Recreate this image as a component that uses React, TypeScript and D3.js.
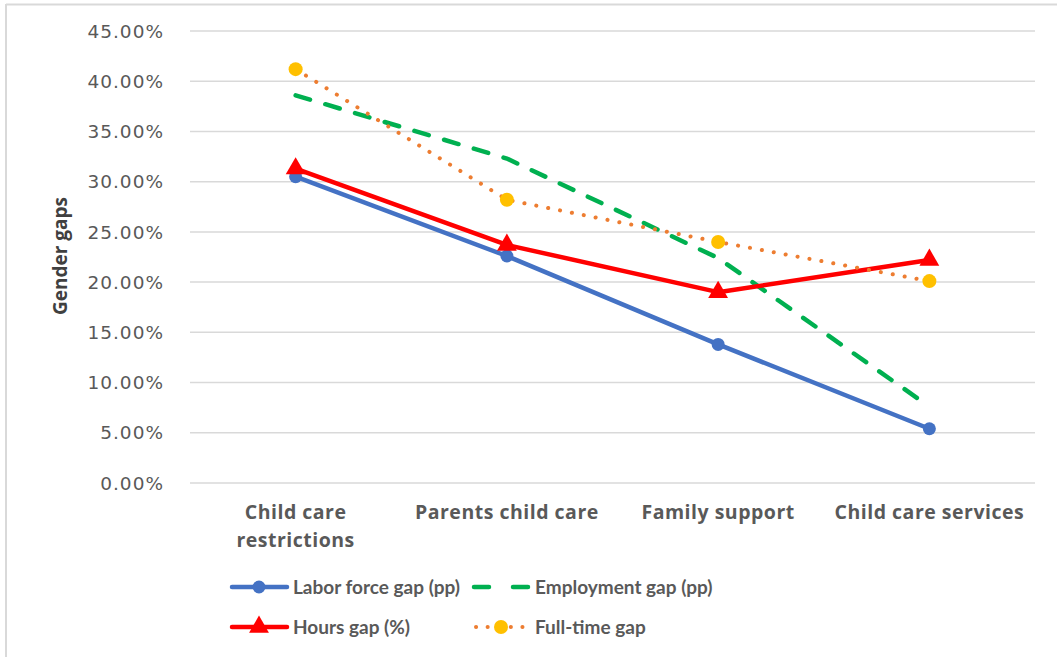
import React from "react";
import * as d3 from "d3";

// Categories along the x axis (multi-line labels split on "\n")
const categories = [
  "Child care\nrestrictions",
  "Parents child care",
  "Family support",
  "Child care services",
];

// Series values (fractions)
const laborForceGap = [0.305, 0.226, 0.138, 0.054];
const employmentGap = [0.386, 0.323, 0.224, 0.076];
const hoursGap = [0.313, 0.237, 0.19, 0.222];
const fullTimeGap = [0.412, 0.282, 0.24, 0.201];

const yTicks = [0, 0.05, 0.1, 0.15, 0.2, 0.25, 0.3, 0.35, 0.4, 0.45];

const W = 1057;
const H = 657;

const x = d3
  .scaleBand<number>()
  .domain(categories.map((_, i) => i))
  .range([190, 1035]);
const cx = (i: number) => (x(i) as number) + x.bandwidth() / 2;
const y = d3.scaleLinear().domain([0, 0.45]).range([483, 31]);

const line = d3
  .line<number>()
  .x((_, i) => cx(i))
  .y((d) => y(d));

const fmt = d3.format(".2%");
const triangle = d3.symbol().type(d3.symbolTriangle).size(170);

const BLUE = "#4472C4";
const GREEN = "#00B050";
const RED = "#FF0000";
const ORANGE = "#ED7D31";
const GOLD = "#FFC000";

const legendFont = "Lato, 'Open Sans', sans-serif";
const labelFont = "'Open Sans', Lato, sans-serif";
const tickFont = "'DejaVu Sans', 'Open Sans', sans-serif";

export default function App() {
  return (
    <svg
      width={W}
      height={H}
      style={{ position: "absolute", left: 0, top: 0, background: "#fff" }}
    >
      <rect width={W} height={H} fill="#fff" />
      {/* chart frame */}
      <line x1={6} x2={6} y1={4} y2={H} stroke="#d9d9d9" strokeWidth={2} />
      <line x1={6} x2={W} y1={4.5} y2={4.5} stroke="#d9d9d9" strokeWidth={2} />

      {/* gridlines and y tick labels */}
      {yTicks.map((t) => (
        <g key={t}>
          <line
            x1={190}
            x2={1035}
            y1={y(t)}
            y2={y(t)}
            stroke="#d9d9d9"
            strokeWidth={1.5}
          />
          <text
            x={164}
            y={y(t)}
            dy="0.36em"
            textAnchor="end"
            fontFamily={tickFont}
            fontSize={18.5}
            letterSpacing={1}
            fill="#595959"
          >
            {fmt(t)}
          </text>
        </g>
      ))}

      {/* axis title */}
      <text
        transform="translate(67,256) rotate(-90)"
        textAnchor="middle"
        fontFamily={labelFont}
        fontSize={19}
        fontWeight="bold"
        fill="#404040"
      >
        Gender gaps
      </text>

      {/* category labels */}
      {categories.map((c, i) =>
        c.split("\n").map((ln, j) => (
          <text
            key={`${i}-${j}`}
            x={cx(i)}
            y={519 + j * 28}
            textAnchor="middle"
            fontFamily={labelFont}
            fontSize={19.5}
            letterSpacing={0.5}
            fontWeight="bold"
            fill="#595959"
          >
            {ln}
          </text>
        ))
      )}

      {/* Labor force gap */}
      <path d={line(laborForceGap) ?? ""} fill="none" stroke={BLUE} strokeWidth={4.5} strokeLinejoin="round" />
      {laborForceGap.map((v, i) => (
        <circle key={i} cx={cx(i)} cy={y(v)} r={6.5} fill={BLUE} />
      ))}

      {/* Employment gap */}
      <path
        d={line(employmentGap) ?? ""}
        fill="none"
        stroke={GREEN}
        strokeWidth={4.5}
        strokeDasharray="15 16"
        strokeLinecap="round"
      />

      {/* Hours gap */}
      <path d={line(hoursGap) ?? ""} fill="none" stroke={RED} strokeWidth={4.5} strokeLinejoin="round" />
      {hoursGap.map((v, i) => (
        <path key={i} d={triangle() ?? ""} transform={`translate(${cx(i)},${y(v)})`} fill={RED} />
      ))}

      {/* Full-time gap */}
      <path
        d={line(fullTimeGap) ?? ""}
        fill="none"
        stroke={ORANGE}
        strokeWidth={4}
        strokeDasharray="0.1 12"
        strokeLinecap="round"
      />
      {fullTimeGap.map((v, i) => (
        <circle key={i} cx={cx(i)} cy={y(v)} r={7} fill={GOLD} />
      ))}

      {/* legend */}
      <g fontFamily={legendFont} fontSize={19} fontWeight="bold" fill="#595959">
        {/* Labor force gap */}
        <line x1={232} x2={287} y1={587} y2={587} stroke={BLUE} strokeWidth={4.5} strokeLinecap="round" />
        <circle cx={259} cy={587} r={6.5} fill={BLUE} />
        <text x={293} y={587} dy="0.35em">Labor force gap (pp)</text>

        {/* Employment gap */}
        <line x1={474} x2={528} y1={587} y2={587} stroke={GREEN} strokeWidth={4.5} strokeLinecap="round" strokeDasharray="15 24" />
        <text x={535} y={587} dy="0.35em">Employment gap (pp)</text>

        {/* Hours gap */}
        <line x1={232} x2={287} y1={627} y2={627} stroke={RED} strokeWidth={4.5} strokeLinecap="round" />
        <path d={triangle() ?? ""} transform="translate(259,627)" fill={RED} />
        <text x={293} y={627} dy="0.35em">Hours gap (%)</text>

        {/* Full-time gap */}
        <line x1={476} x2={530} y1={627} y2={627} stroke={ORANGE} strokeWidth={4} strokeLinecap="round" strokeDasharray="0.1 11.5" />
        <circle cx={501} cy={627} r={7} fill={GOLD} />
        <text x={535} y={627} dy="0.35em">Full-time gap</text>
      </g>
    </svg>
  );
}
